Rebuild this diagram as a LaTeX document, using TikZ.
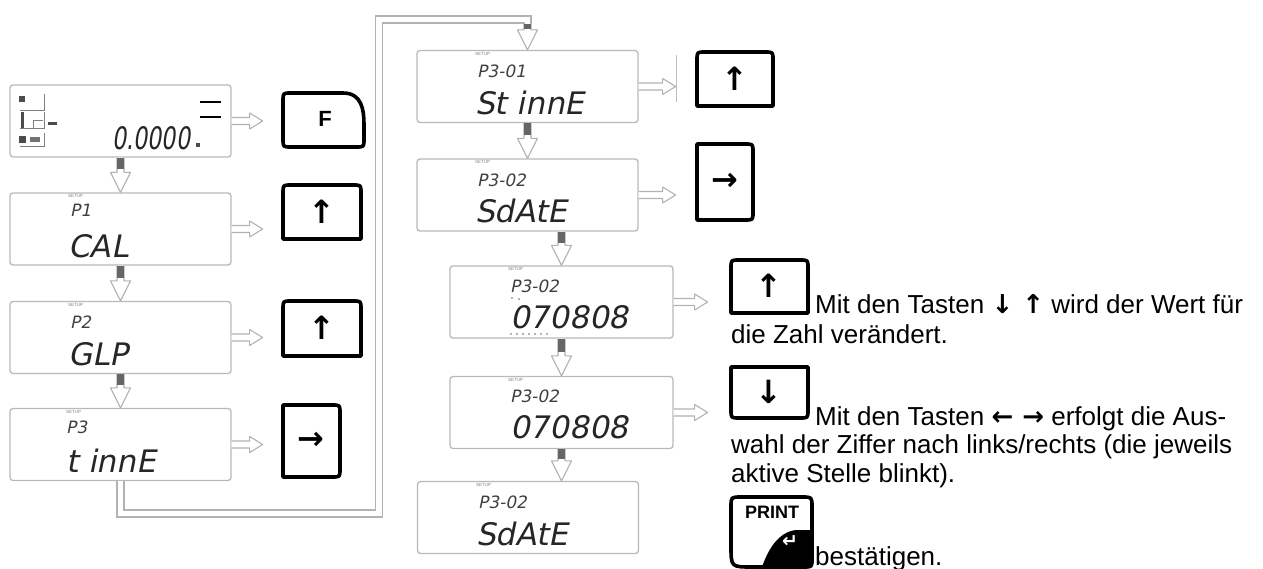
\documentclass[tikz,border=0pt]{standalone}
\usepackage{fontspec}
\usepackage{graphicx}
\setmainfont{Liberation Sans}
\newfontfamily\lcdfont{DejaVu Sans}[FakeSlant=0.2]
\newfontfamily\symfont{DejaVu Sans}
\usepackage{tikz}
\usetikzlibrary{calc}

\tikzset{
  lcd/.style={draw=gray!55, line width=1.3pt, rounded corners=3pt, fill=white,
    minimum width=221pt, minimum height=72pt, inner sep=0pt},
  arrline/.style={draw=gray!60, line width=1.1pt, fill=white, line join=round},
  keyline/.style={draw=black, line width=3.6pt, line join=round},
  keylab/.style={inner sep=0pt, font=\bfseries\fontsize{22}{22}\selectfont},
  keyarr/.style={inner sep=0pt, font=\symfont\bfseries\fontsize{32}{32}\selectfont},
  dline/.style={draw=gray!60, line width=1.3pt, double=white, double distance=5.7pt}
}
\newcommand{\lcdbig}[4]{\node[anchor=base west,inner sep=0pt,text=black!85,
  font=\lcdfont\fontsize{31}{31}\selectfont] (#1) at (#2,#3) {#4};}
\newcommand{\lcdpar}[4]{\node[anchor=base west,inner sep=0pt,text=black!75,
  font=\lcdfont\fontsize{17}{17}\selectfont] (#1) at (#2,#3) {#4};}
\newcommand{\lcdset}[3]{\node[anchor=north west,inner sep=0pt,text=gray,
  font=\fontsize{4.5}{4.5}\selectfont] (#1) at (#2,#3) {SETUP};}
\newcommand{\txt}[4]{\node[anchor=base west,inner sep=0pt,
  font=\fontsize{26}{26}\selectfont] (#1) at (#2,#3) {#4};}
\newcommand{\rarr}[2]{\draw[arrline] (#1) ++(0,-3.5) -- ++(#2-13,0) -- ++(0,-4.5)
  -- ++(13,8) -- ++(-13,8) -- ++(0,-4.5) -- ++(-#2+13,0);}
\newcommand{\darr}[2]{%
  \coordinate (da) at (#1); \coordinate (db) at (#2);
  \coordinate (dc) at ($(db)+(0,-20)$);
  \draw[arrline] ($(da)+(-3.5,0)$) -- ($(dc)+(-3.5,0)$) -- ($(dc)+(-10,0)$) -- (db)
    -- ($(dc)+(10,0)$) -- ($(dc)+(3.5,0)$) -- ($(da)+(3.5,0)$);
  \fill[black!60] ($(da)+(-3.5,0)$) rectangle ($(da)!0.8!(dc)+(3.5,0)$);}
\newcommand{\keytop}[4]{\draw[keyline] (#1,#4) -- (#1,#2+8) .. controls (#1,#2) .. (#1+8,#2)
  -- (#3-8,#2) .. controls (#3,#2) .. (#3,#2+8) -- (#3,#4) -- cycle;}
\newcommand{\keybot}[4]{\draw[keyline] (#1,#2) -- (#3,#2) -- (#3,#4-8) .. controls (#3,#4) .. (#3-8,#4)
  -- (#1+8,#4) .. controls (#1,#4) .. (#1,#4-8) -- cycle;}
\newcommand{\keyright}[4]{\draw[keyline] (#1,#2) -- (#3-8,#2) .. controls (#3,#2) .. (#3,#2+8)
  -- (#3,#4-8) .. controls (#3,#4) .. (#3-8,#4) -- (#1,#4) -- cycle;}

\begin{document}
\begin{tikzpicture}[x=1pt,y=-1pt]
\useasboundingbox (0,0) rectangle (1263,569);

% ---- displays
\node[lcd] (lcd0) at (120.5,121) {};
\node[lcd] (lcd1) at (120.5,229) {};
\node[lcd] (lcd2) at (120.5,337.5) {};
\node[lcd] (lcd3) at (120.5,444.5) {};
\node[lcd] (lcd4) at (527.5,86.5) {};
\node[lcd] (lcd5) at (527.5,195) {};
\node[lcd,minimum width=223pt] (lcd6) at (561.5,302) {};
\node[lcd,minimum width=223pt] (lcd7) at (561.5,412.5) {};
\node[lcd] (lcd8) at (528,517.5) {};

% ---- display contents
\draw[gray] (20,110) -- (44,110) -- (44,94);
\fill[black!70] (19,96) rectangle (25,102);
\draw[gray] (20,128) -- (44,128) -- (44,112);
\fill[black!70] (21,112) rectangle (24,128);
\draw[gray] (33,128) -- (33,120) -- (43,120);
\fill[black!70] (48,122) rectangle (57,125);
\draw[gray] (20,146) -- (44,146) -- (44,133);
\fill[black!70] (19,136) rectangle (26,143);
\fill[black!55] (30,137) rectangle (40,142);
\draw[line width=2pt] (200,102) -- (221,102);
\draw[line width=2pt] (200,117) -- (221,117);
\fill[black!70] (196,143) rectangle (200,147);
\lcdbig{w0}{112}{150}{\scalebox{0.72}[1]{0.0000}}

\lcdset{s1}{68}{194}
\lcdpar{p1}{70}{217}{P1}
\lcdbig{w1}{68}{258}{CAL}
\lcdset{s2}{68}{303}
\lcdpar{p2}{70}{328}{P2}
\lcdbig{w2}{68}{365}{GLP}
\lcdset{s3}{66}{410}
\lcdpar{p3}{66}{433}{P3}
\lcdbig{w3}{66}{472}{t innE}
\lcdset{s4}{475}{52}
\lcdpar{p4}{477}{78}{P3-01}
\lcdbig{w4}{475}{115}{St innE}
\lcdset{s5}{475}{160}
\lcdpar{p5}{477}{187}{P3-02}
\lcdbig{w5}{475}{223}{SdAtE}
\lcdset{s6}{508}{267}
\lcdpar{p6}{510}{292}{P3-02}
\lcdbig{w6}{510}{328}{070808}
\foreach \dx in {0,6,...,36} \fill[black!60] (511+\dx,334) circle (0.8);
\fill[black!60] (512,298) circle (0.8) (519,299) circle (0.8);
\lcdset{s7}{508}{378}
\lcdpar{p7}{510}{402}{P3-02}
\lcdbig{w7}{510}{438}{070808}
\lcdset{s8}{476}{483}
\lcdpar{p8}{478}{508}{P3-02}
\lcdbig{w8}{476}{545}{SdAtE}

% ---- flow arrows
\darr{lcd0.south}{lcd1.north}
\darr{lcd1.south}{lcd2.north}
\darr{lcd2.south}{lcd3.north}
\darr{lcd4.south}{lcd5.north}
\darr{lcd5.south -| lcd6.north}{lcd6.north}
\darr{lcd6.south}{lcd7.north}
\darr{lcd7.south}{lcd8.north -| lcd7.south}

\coordinate (b1) at (120.5,513.5);
\coordinate (b2) at (379,513.5);
\coordinate (b3) at (379,19.5);
\coordinate (b4) at (527.5,19.5);
\coordinate (b5) at (527.5,24);
\draw[dline] (lcd3.south) -- (b1) -- (b2) -- (b3) -- (b4) -- (b5);
\darr{b5}{lcd4.north}

\rarr{lcd0.east}{31}
\rarr{lcd1.east}{31}
\rarr{lcd2.east}{31}
\rarr{lcd3.east}{31}
\rarr{lcd4.east}{37}
\rarr{lcd5.east}{37}
\rarr{lcd6.east}{34}
\rarr{lcd7.east}{34}
\draw[gray!50] (676,55) -- (676,102);

% ---- keys
\draw[keyline] (291,93) -- (343,93) .. controls (362,93) and (364,110) .. (364,125)
  -- (364,139) .. controls (364,147) .. (356,147) -- (291,147)
  .. controls (283,147) .. (283,139) -- (283,101) .. controls (283,93) .. (291,93) -- cycle;
\node[keylab] (kF) at (325,119) {F};
\keytop{283}{185}{361}{239}
\node[keyarr] (kU1) at (322,212) {↑};
\keytop{283}{301}{361}{356}
\node[keyarr] (kU2) at (322,328) {↑};
\keyright{283}{405}{340}{477}
\node[keyarr] (kR1) at (311,441) {→};
\keytop{697}{52}{773}{106}
\node[keyarr] (kU3) at (735,79) {↑};
\keyright{697}{144}{753}{220}
\node[keyarr] (kR2) at (725,182) {→};
\keytop{731}{260}{808}{313}
\node[keyarr] (kU4) at (769,286) {↑};
\keybot{731}{367}{808}{418}
\node[keyarr] (kD) at (769,392) {↓};

\fill (812,530) -- (796,530) .. controls (778,532) and (768,550) .. (762,567)
  -- (804,567) .. controls (812,567) .. (812,559) -- cycle;
\draw[keyline] (741,497) -- (802,497) .. controls (812,497) .. (812,507) -- (812,559)
  .. controls (812,567) .. (804,567) -- (752,567) .. controls (731,567) .. (731,546)
  -- (731,507) .. controls (731,497) .. (741,497) -- cycle;
\node[inner sep=0pt,font=\bfseries\fontsize{18}{18}\selectfont] (kP) at (772,512) {PRINT};
\node[inner sep=0pt,text=white,font=\symfont\bfseries\fontsize{19}{19}\selectfont] (kE) at (790,542) {↵};

% ---- descriptions
\txt{l1}{815}{313}{Mit den Tasten {\symfont\bfseries ↓ ↑} wird der Wert für}
\txt{l2}{731}{343}{die Zahl verändert.}
\txt{l3}{815}{425}{Mit den Tasten {\symfont\bfseries ← →} erfolgt die Aus-}
\txt{l4}{731}{453}{wahl der Ziffer nach links/rechts (die jeweils}
\txt{l5}{731}{482}{aktive Stelle blinkt).}
\txt{l6}{815}{565}{bestätigen.}
\end{tikzpicture}
\end{document}
